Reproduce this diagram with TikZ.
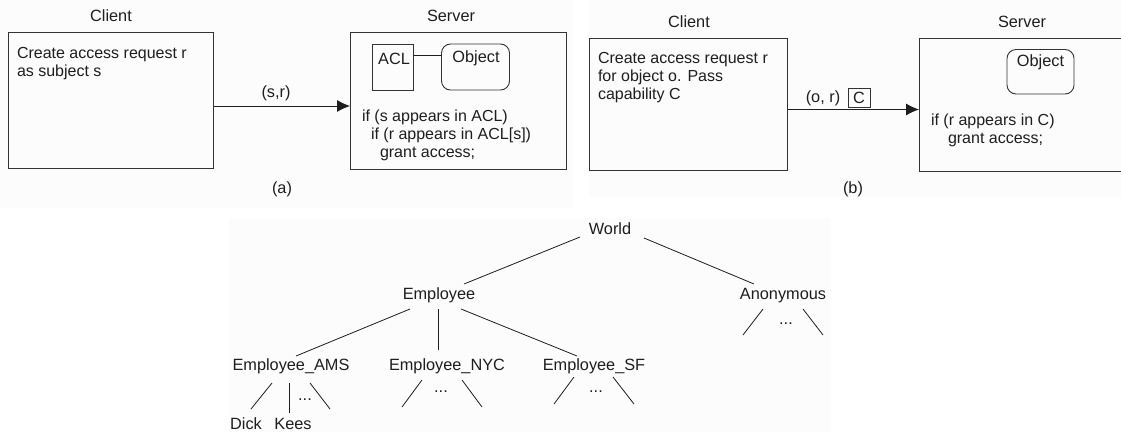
\documentclass[tikz,border=0pt]{standalone}
\usepackage{fontspec}
\setmainfont{Liberation Sans}
\usetikzlibrary{arrows.meta}
\definecolor{ink}{HTML}{1E1E1E}
\definecolor{edge}{HTML}{333333}
\definecolor{panel}{HTML}{FCFCFC}
\tikzset{
  lbl/.style={inner sep=0pt,outer sep=0pt,anchor=base,text=ink,font=\fontsize{16.3}{18.3}\selectfont},
  para/.style={inner sep=0pt,outer sep=0pt,anchor=north west,align=left,text=ink,font=\fontsize{16}{18}\selectfont},
  boxn/.style={draw=edge,line width=0.9pt,inner sep=0pt,outer sep=0pt},
  obj/.style={boxn,rounded corners=9pt},
  wire/.style={draw=ink,line width=0.8pt},
  flow/.style={wire,-{Latex[length=13pt,width=12pt]}}
}
\newcommand{\tlink}[6]{\draw[wire] ([shift={(#2,#3)}]#1.base) -- ([shift={(#5,#6)}]#4.base);}
\newcommand{\tfree}[5]{\coordinate (#4) at (#5); \draw[wire] ([shift={(#2,#3)}]#1.base) -- (#4);}
\begin{document}
\begin{tikzpicture}[x=1pt,y=-1pt]
\useasboundingbox (0,0) rectangle (1121,432);
\fill[white] (0,0) rectangle (1121,432);
\fill[panel] (0,0) rectangle (573,208);
\fill[panel] (589,0) rectangle (1121,197);
\fill[panel] (229,218) rectangle (831,432);

% (a)
\node[lbl] (ca) at (111,21) {Client};
\node[lbl] (sa) at (451,21) {Server};
\node[boxn,minimum width=205.5pt,minimum height=136pt] (cla) at (110.75,100.5) {};
\node[boxn,minimum width=216pt,minimum height=136.5pt] (sva) at (458,100.75) {};
\node[para] (ta) at (17,45.4) {\strut Create access request r\\as subject s};
\node[boxn,minimum width=40.5pt,minimum height=46pt] (acl) at (392.75,67) {};
\node[lbl] (acll) at (394,64) {ACL};
\node[obj,minimum width=68pt,minimum height=46pt] (oa) at (475.5,67) {};
\node[lbl] (oal) at (476,62) {Object};
\draw[wire] (acl.east |- 0,55) -- (oa.west |- 0,55);
\draw[flow] (cla.east |- 0,106) -- (sva.west |- 0,106);
\node[lbl] (sr) at (276,97) {(s,r)};
\node[para] (ifa) at (362,108.4) {\strut if (s appears in ACL)\\\hspace*{9pt}if (r appears in ACL[s])\\\hspace*{18pt}grant access;};
\node[lbl] (capa) at (282,193) {(a)};

% (b)
\node[lbl] (cb) at (689,27) {Client};
\node[lbl] (sb) at (1022,27) {Server};
\node[boxn,minimum width=198.5pt,minimum height=132.5pt] (clb) at (688.25,104.25) {};
\draw[edge,line width=0.9pt] (1121,38.5) -- (919,38.5) -- (919,171) -- (1121,171);
\coordinate (svb) at (919,109.5);
\node[para] (tb) at (598,50.4) {\strut Create access request r\\for object o. Pass\\capability C};
\node[obj,minimum width=67pt,minimum height=44.5pt] (ob) at (1040.5,71.75) {};
\node[lbl] (obl) at (1040.5,66) {Object};
\draw[flow] (clb.east |- svb) -- (svb);
\node[lbl] (orl) at (823,102) {(o, r)};
\node[boxn,minimum width=22pt,minimum height=19pt] (cap) at (859,98) {};
\node[lbl] (capl) at (859,103.5) {C};
\node[para] (ifb) at (931,112.4) {\strut if (r appears in C)\\\hspace*{17pt}grant access;};
\node[lbl] (capb) at (853,193) {(b)};

% tree
\node[lbl] (world) at (610,234) {World};
\node[lbl] (emp) at (439,299) {Employee};
\node[lbl] (anon) at (783,299) {Anonymous};
\node[lbl] (ams) at (291,370) {Employee\_AMS};
\node[lbl] (nyc) at (447,370) {Employee\_NYC};
\node[lbl] (sf) at (594,370) {Employee\_SF};
\node[lbl] (dick) at (246,429) {Dick};
\node[lbl] (kees) at (293,429) {Kees};
\node[lbl] (d1) at (305,400) {...};
\node[lbl] (d2) at (441,392) {...};
\node[lbl] (d3) at (596,392) {...};
\node[lbl] (d4) at (786,324) {...};
\tlink{world}{-30}{3}{emp}{25}{-15}
\tlink{world}{34}{4}{anon}{-29}{-15}
\tlink{emp}{-29}{10}{ams}{5}{-14}
\tlink{emp}{-1}{10}{nyc}{-9}{-20}
\tlink{emp}{22}{10}{sf}{-17}{-14}
\tlink{ams}{-19}{13}{dick}{5}{-20}
\tlink{ams}{-2}{13}{kees}{-4}{-16}
\tfree{ams}{19}{13}{e1}{330,409}
\tfree{nyc}{-25}{10}{e2}{402,407}
\tfree{nyc}{15}{10}{e3}{482,407}
\tfree{sf}{-20}{7}{e4}{554,404}
\tfree{sf}{19}{7}{e5}{634,404}
\tfree{anon}{-20}{10}{e6}{743,335}
\tfree{anon}{20}{10}{e7}{823,335}
\end{tikzpicture}
\end{document}
